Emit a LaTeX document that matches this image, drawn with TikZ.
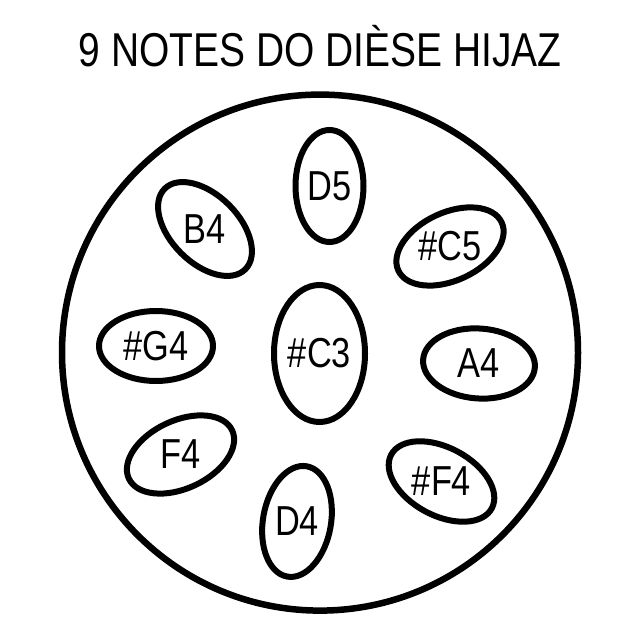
\documentclass[tikz,border=0pt]{standalone}
\usepackage{fontspec}
\setmainfont{Liberation Sans}[FakeStretch=0.82]
\usepackage{tikz}
\usetikzlibrary{shapes}
\tikzstyle{note} = [inner sep=0pt, font=\fontsize{41.9}{48}\selectfont]
\tikzstyle{heading} = [inner sep=0pt, anchor=base, font=\fontsize{47.5}{54}\selectfont]
\tikzstyle{rim} = [draw, line width=6pt]
\tikzstyle{drum} = [draw, line width=6.5pt]

\begin{document}
\begin{tikzpicture}[x=1pt, y=1pt]
\useasboundingbox (0,0) rectangle (640,640);
    % Place nodes
\node[heading] (title) at (320,573) {9 NOTES DO DIÈSE HIJAZ};
\coordinate (mid) at (320,287.4);
\node[note] (cs3) at (319.5,286.5) {\#C3}; \node[note] (d5) at (329.5,454)
{D5}; \node[note] (cs5) at (450,393.5) {\#C5}; \node[note] (a4) at
(479,276.5) {A4}; \node[note] (fs4) at (441.5,158.5) {\#F4};
\node[note] (d4) at (297,118.5) {D4}; \node[note] (f4) at (180.5,185.5)
{F4}; \node[note] (gs4) at (156,294) {\#G4}; \node[note] (b4) at
(205,411) {B4};

    % Draw outlines
\draw[drum] (mid) circle (258pt);
\draw[rim] (cs3) ellipse (45.5pt and 68.5pt);
\draw[rim, rotate around={90:(d5)}] (d5) ellipse (56pt and 34pt);
\draw[rim, rotate around={25:(cs5)}] (cs5) ellipse (57pt and 34pt);
\draw[rim, rotate around={-4:(a4)}] (a4) ellipse (56pt and 35pt);
\draw[rim, rotate around={-28:(fs4)}] (fs4) ellipse (57pt and 34pt);
\draw[rim, rotate around={80:(d4)}] (d4) ellipse (56pt and 34pt);
\draw[rim, rotate around={25:(f4)}] (f4) ellipse (57pt and 34pt);
\draw[rim] (gs4) ellipse (57pt and 35pt);
\draw[rim, rotate around={-45:(b4)}] (b4) ellipse (57pt and 34pt);

\end{tikzpicture}
\end{document}
